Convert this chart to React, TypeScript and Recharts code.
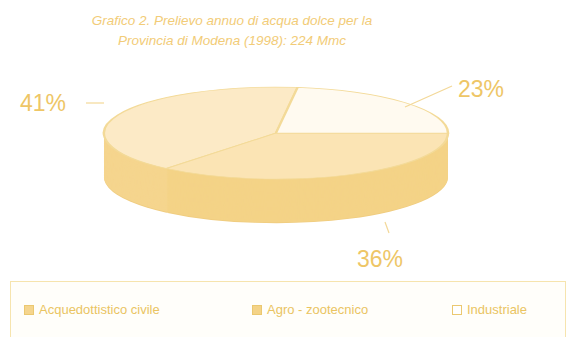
import React from 'react';
import { PieChart, Pie, Cell } from 'recharts';

const categories = ['Acquedottistico civile', 'Agro - zootecnico', 'Industriale'];
const shares = [41, 36, 23];
const topColors = ['#FCEAC6', '#FBE4B4', '#FFFAF0'];
const sideColors = ['#F5D58E', '#F4D387', '#F6DA9A'];
const titleLines = [
  'Grafico 2. Prelievo annuo di acqua dolce per la',
  'Provincia di Modena (1998): 224 Mmc',
];

// pie is drawn round and squashed vertically to fake the 3D look
const R = 172;
const SQUASH = 46 / 172;
const DEPTH = 165;
const TOP_CY = 176;
const LAYERS = 48;

const data = categories.map((name, i) => ({ name, value: shares[i] }));

const GOLD = '#EEC666';
const FONT = '"Liberation Sans", Arial, sans-serif';

export default function App() {
  const layers = Array.from({ length: LAYERS }, (_, k) => TOP_CY + DEPTH - (DEPTH * k) / (LAYERS - 1));

  return (
    <div style={{ position: 'fixed', left: 0, top: 0, width: 570, height: 337, background: '#fff', overflow: 'hidden', fontFamily: FONT }}>
      {titleLines.map((t, i) => (
        <div key={i} style={{ position: 'absolute', left: 0, width: 464, top: 13 + i * 20, textAlign: 'center', fontStyle: 'italic', fontSize: 13.5, color: '#F2CC78' }}>
          {t}
        </div>
      ))}

      <div style={{ position: 'absolute', left: 86, top: 86, width: 380, height: 520, transform: `scaleY(${SQUASH})`, transformOrigin: 'top left' }}>
        <PieChart width={380} height={520} margin={{ top: 0, right: 0, bottom: 0, left: 0 }}>
          {layers.map((cy, k) => {
            const isTop = k === LAYERS - 1;
            return (
              <Pie
                key={k}
                data={data}
                dataKey="value"
                nameKey="name"
                cx={190}
                cy={cy}
                outerRadius={R}
                startAngle={82.8}
                endAngle={442.8}
                isAnimationActive={false}
                stroke={isTop ? '#F3DA98' : 'none'}
                strokeWidth={isTop ? 2.5 : 0}
              >
                {data.map((d, i) => (
                  <Cell key={d.name} fill={isTop ? topColors[i] : k === 0 ? '#F0CD80' : sideColors[i]} />
                ))}
              </Pie>
            );
          })}
        </PieChart>
      </div>

      <svg width={570} height={337} style={{ position: 'absolute', left: 0, top: 0, pointerEvents: 'none' }}>
        <line x1={86} y1={103} x2={104} y2={103} stroke="#F3D898" strokeWidth={1.2} />
        <line x1={405} y1={107} x2={452} y2={86} stroke="#F3D898" strokeWidth={1.2} />
        <line x1={385} y1={222} x2={389} y2={233} stroke="#F3D898" strokeWidth={1.2} />
      </svg>

      {[
        { i: 0, left: 20, top: 90 },
        { i: 2, left: 458, top: 76 },
        { i: 1, left: 357, top: 246 },
      ].map(({ i, left, top }) => (
        <div key={i} style={{ position: 'absolute', left, top, fontSize: 23, color: GOLD, lineHeight: '26px' }}>
          {shares[i]}%
        </div>
      ))}

      <div style={{ position: 'absolute', left: 10, top: 281, width: 556, height: 70, border: '1.5px solid #F6E4AE', boxSizing: 'border-box', background: '#FFFEFA' }} />
      {categories.map((c, i) => (
        <div key={c} style={{ position: 'absolute', left: [24, 252, 452][i], top: 302, display: 'flex', alignItems: 'center', fontSize: 13, color: '#EAC462' }}>
          <span style={{ display: 'inline-block', width: 8, height: 8, border: '1px solid #EBC870', background: i === 2 ? '#fff' : sideColors[i], marginRight: 5 }} />
          {c}
        </div>
      ))}
    </div>
  );
}
